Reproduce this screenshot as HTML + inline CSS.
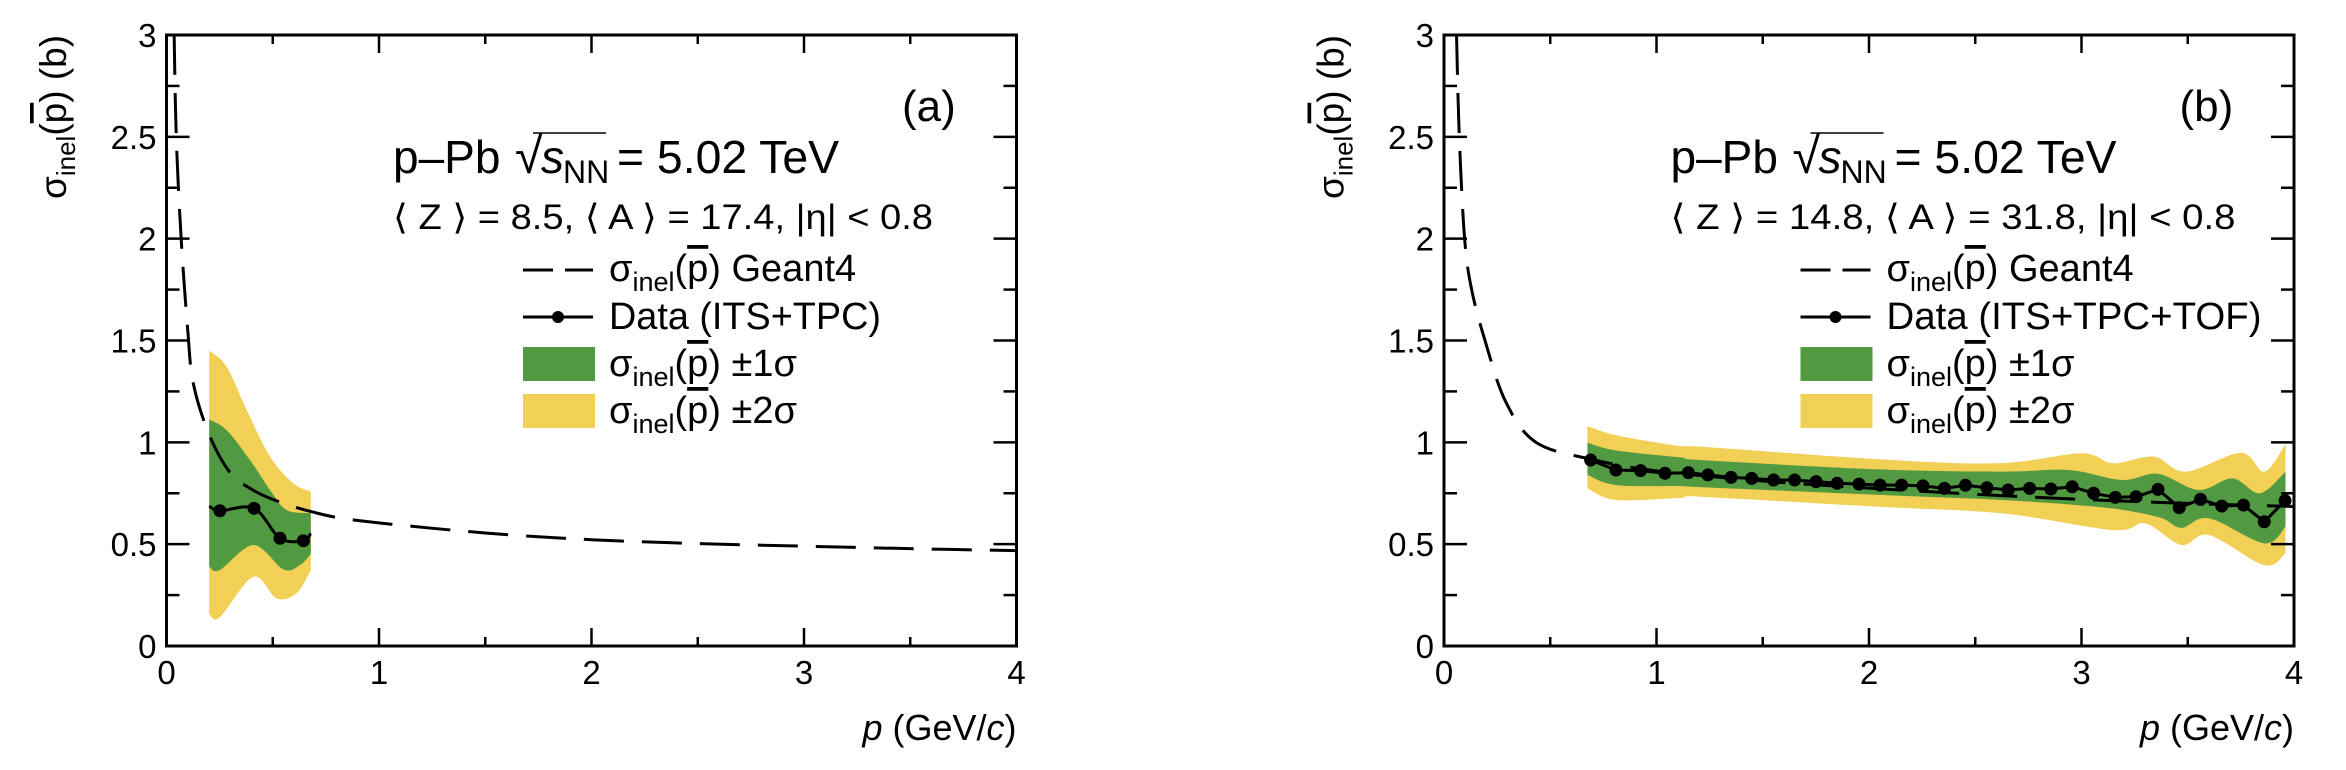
<!DOCTYPE html>
<html><head><meta charset="utf-8"><style>
html,body{margin:0;padding:0;background:#fff}
svg{display:block;font-family:"Liberation Sans",sans-serif}
</style></head><body>
<svg id="c" width="2346" height="770" viewBox="0 0 2346 770" xmlns="http://www.w3.org/2000/svg"></svg>
<script>
// ---------- data: panel (a) ----------
const geantPA = [0.036,0.046,0.069,0.1,0.126,0.2,0.3,0.4,0.5,0.68,0.91,1.5,2,2.5,3,3.5,4];
const geantVA = [3,2.5,2.0,1.55,1.29,1.04,0.85,0.77,0.72,0.66,0.615,0.555,0.522,0.503,0.49,0.478,0.468];
const dataPA = [0.251,0.412,0.534,0.644];
const dataVA = [0.664,0.676,0.529,0.517];
const lineEndsPA = [0.201,0.679];
const lineEndsVA = [0.687,0.553];
const y2UpPA = [0.201,0.283,0.377,0.487,0.597,0.679];
const y2UpVA = [1.45,1.371,1.159,0.93,0.799,0.758];
const y1UpPA = [0.201,0.283,0.393,0.487,0.565,0.679];
const y1UpVA = [1.113,1.06,0.913,0.766,0.668,0.652];
const y1LoPA = [0.201,0.251,0.409,0.55,0.628,0.679];
const y1LoVA = [0.389,0.373,0.496,0.376,0.398,0.452];
const y2LoPA = [0.201,0.251,0.409,0.518,0.612,0.679];
const y2LoVA = [0.157,0.141,0.34,0.234,0.259,0.373];
// ---------- data: panel (b) ----------
const geantPB = [0.059,0.072,0.097,0.13,0.193,0.29,0.433,0.7,1,1.5,2,2.5,3,3.5,4];
const geantVB = [3,2.5,2.0,1.75,1.5,1.2,1.0,0.915,0.86,0.81,0.775,0.745,0.72,0.70,0.685];
const dataPB = [0.69,0.809,0.925,1.04,1.15,1.242,1.351,1.448,1.551,1.65,1.751,1.85,1.953,2.052,2.153,2.254,2.355,2.454,2.555,2.655,2.756,2.856,2.956,3.057,3.159,3.257,3.36,3.46,3.56,3.66,3.762,3.86,3.958];
const dataVB = [0.913,0.864,0.861,0.848,0.851,0.840,0.828,0.823,0.815,0.815,0.807,0.799,0.795,0.79,0.79,0.786,0.774,0.789,0.777,0.766,0.774,0.771,0.782,0.750,0.730,0.733,0.769,0.679,0.72,0.687,0.692,0.610,0.714];
const y2UpPB = [0.675,0.81,1.12,1.205,2.046,2.61,3.0,3.15,3.34,3.49,3.75,3.86,3.96];
const y2UpVB = [1.08,1.035,0.98,0.979,0.917,0.897,0.946,0.897,0.93,0.856,0.949,0.856,0.99];
const y1UpPB = [0.675,0.81,1.12,1.205,2.046,2.63,2.94,3.19,3.36,3.55,3.71,3.84,3.96];
const y1UpVB = [0.998,0.96,0.925,0.913,0.867,0.856,0.864,0.815,0.845,0.766,0.823,0.75,0.856];
const y1LoPB = [0.675,0.81,1.12,1.205,2.046,2.63,3.07,3.24,3.38,3.47,3.6,3.86,3.96];
const y1LoVB = [0.84,0.79,0.785,0.78,0.742,0.717,0.684,0.66,0.627,0.58,0.627,0.504,0.586];
const y2LoPB = [0.675,0.81,1.12,1.205,2.046,2.63,3.15,3.3,3.47,3.6,3.86,3.96];
const y2LoVB = [0.774,0.717,0.728,0.733,0.684,0.651,0.569,0.602,0.496,0.545,0.397,0.455];
// ---------- axes ----------
const xTicks = [0,1,2,3,4];
const yTicks = [0,0.5,1,1.5,2,2.5,3];
const yTickLabels = ["0","0.5","1","1.5","2","2.5","3"];

const NS = "http://www.w3.org/2000/svg";
const svg = document.getElementById('c');
const Y0 = 646, Y1 = 35, W = 850;
function ys(v){ return Y0 - v/3*(Y0-Y1); }
function mk(tag, attrs, parent){ const e=document.createElementNS(NS,tag); for(const k in attrs) e.setAttribute(k,attrs[k]); (parent||svg).appendChild(e); return e; }
function crPath(pts){
  let d = "M"+pts[0][0].toFixed(2)+","+pts[0][1].toFixed(2);
  for(let i=0;i<pts.length-1;i++){
    const p0=pts[Math.max(0,i-1)], p1=pts[i], p2=pts[i+1], p3=pts[Math.min(pts.length-1,i+2)];
    const c1=[p1[0]+(p2[0]-p0[0])/6, p1[1]+(p2[1]-p0[1])/6];
    const c2=[p2[0]-(p3[0]-p1[0])/6, p2[1]-(p3[1]-p1[1])/6];
    d += " C"+c1[0].toFixed(2)+","+c1[1].toFixed(2)+" "+c2[0].toFixed(2)+","+c2[1].toFixed(2)+" "+p2[0].toFixed(2)+","+p2[1].toFixed(2);
  }
  return d;
}
function bandPath(xs, upP, upV, loP, loV){
  const up = upP.map((p,i)=>[xs(p),ys(upV[i])]);
  const lo = loP.map((p,i)=>[xs(p),ys(loV[i])]).reverse();
  let d = crPath(up);
  d += " L" + crPath(lo).slice(1);
  return d + " Z";
}

function panel(X0, id, label, zLine, zLen, dataLabel, dataLen, geP, geV, bands, dP, dV, lineP, lineV){
  const xs = p => X0 + p/4*W;
  const g = mk('g', {});
  
  
  const clip = mk('clipPath', {id:'clip-'+id}, g);
  mk('rect', {x:X0, y:Y1, width:W, height:Y0-Y1}, clip);
  const plot = mk('g', {'clip-path':'url(#clip-'+id+')'}, g);
  const b2 = mk('path', {d: bandPath(xs, bands[0], bands[1], bands[6], bands[7]), fill:'#f2cf55'}, plot);
  
  
  const b1 = mk('path', {d: bandPath(xs, bands[2], bands[3], bands[4], bands[5]), fill:'#529a42'}, plot);
  
  
  const gp = mk('path', {d: crPath(geP.map((p,i)=>[xs(p),ys(geV[i])])), fill:'none', stroke:'#000', 'stroke-width':3, 'stroke-dasharray':'40,18'}, plot);
  
  
  let pts = dP.map((p,i)=>[xs(p),ys(dV[i])]);
  if(lineP){ pts = [[xs(lineP[0]),ys(lineV[0])]].concat(pts).concat([[xs(lineP[1]),ys(lineV[1])]]); }
  const dl = mk('path', {d: lineP ? crPath(pts) : "M"+pts.map(q=>q[0].toFixed(1)+","+q[1].toFixed(1)).join(" L"), fill:'none', stroke:'#000', 'stroke-width':3}, plot);
  
  
  dP.forEach((p,i)=>{
    const c = mk('circle', {cx:xs(p), cy:ys(dV[i]), r:6.5, fill:'#000'}, g);
    
    
  });
  const fr = mk('rect', {x:X0, y:Y1, width:W, height:Y0-Y1, fill:'none', stroke:'#000', 'stroke-width':3}, g);
  
  
  for(let t=0;t<=4.001;t+=0.5){
    const L = (Math.abs(t-Math.round(t))<1e-6)?18:9;
    mk('line', {x1:xs(t), y1:Y0, x2:xs(t), y2:Y0-L, stroke:'#000','stroke-width':2.5}, g);
    mk('line', {x1:xs(t), y1:Y1, x2:xs(t), y2:Y1+L, stroke:'#000','stroke-width':2.5}, g);
  }
  for(let v=0;v<=3.001;v+=0.25){
    const L = (Math.abs(v*2-Math.round(v*2))<1e-6)?23:13;
    mk('line', {x1:X0, y1:ys(v), x2:X0+L, y2:ys(v), stroke:'#000','stroke-width':2.5}, g);
    mk('line', {x1:X0+W, y1:ys(v), x2:X0+W-L, y2:ys(v), stroke:'#000','stroke-width':2.5}, g);
  }
  xTicks.forEach(t=>{
    const tx = mk('text', {x:xs(t), y:684, 'font-size':33, 'text-anchor':'middle'}, g);
    tx.textContent = String(t);
    
    
  });
  yTicks.forEach((v,i)=>{
    const tx = mk('text', {x:X0-10, y:ys(v)+12, 'font-size':33, 'text-anchor':'end'}, g);
    tx.textContent = yTickLabels[i];
    
    
  });
  const dx = X0 - 166.5;
  const lab = mk('text', {x:902+dx, y:121, 'font-size':44}, g);
  lab.textContent = label;
  
  
  const t1 = mk('text', {x:393+dx, y:173, 'font-size':46}, g);
  t1.innerHTML = '<tspan>p–Pb</tspan><tspan x="'+(515+dx)+'" font-size="50">√</tspan><tspan x="'+(541+dx)+'" font-style="italic">s</tspan><tspan x="'+(563+dx)+'" dy="10" font-size="32">NN</tspan><tspan x="'+(617+dx)+'" dy="-10" textLength="222" lengthAdjust="spacingAndGlyphs">= 5.02 TeV</tspan>';
  
  
  mk('line', {x1:533+dx, y1:133, x2:606+dx, y2:133, stroke:'#000','stroke-width':1.5}, g);
  const t2 = mk('text', {x:393+dx, y:229, 'font-size':35, textLength:zLen, lengthAdjust:'spacingAndGlyphs'}, g);
  t2.textContent = zLine;
  
  
  const lx = 523+dx;
  const lg = mk('g', {}, g);
  
  
  mk('line', {x1:lx, y1:270, x2:lx+70, y2:270, stroke:'#000','stroke-width':3,'stroke-dasharray':'30,12'}, lg);
  mk('line', {x1:lx, y1:317, x2:lx+70, y2:317, stroke:'#000','stroke-width':3}, lg);
  mk('circle', {cx:lx+35, cy:317, r:6, fill:'#000'}, lg);
  mk('rect', {x:lx, y:347, width:72, height:34, fill:'#529a42'}, lg);
  mk('rect', {x:lx, y:394, width:72, height:34, fill:'#f2cf55'}, lg);
  const sig = '<tspan>σ</tspan><tspan dy="10" font-size="27">inel</tspan><tspan dy="-10">(</tspan><tspan text-decoration="overline">p</tspan><tspan>)</tspan>';
  const e1 = mk('text', {x:609+dx, y:281, 'font-size':38}, lg); e1.innerHTML = sig+'<tspan> Geant4</tspan>';
  
  
  const e2 = mk('text', {x:609+dx, y:329, 'font-size':38, textLength:dataLen, lengthAdjust:'spacingAndGlyphs'}, lg); e2.textContent = dataLabel;
  
  
  const e3 = mk('text', {x:609+dx, y:376, 'font-size':38}, lg); e3.innerHTML = sig+'<tspan> ±1σ</tspan>';
  
  
  const e4 = mk('text', {x:609+dx, y:423, 'font-size':38}, lg); e4.innerHTML = sig+'<tspan> ±2σ</tspan>';
  
  
  const xt = mk('text', {x:X0+W, y:740, 'font-size':36, 'text-anchor':'end'}, g);
  xt.innerHTML = '<tspan font-style="italic">p</tspan> (GeV/<tspan font-style="italic">c</tspan>)';
  
  
  const yt = mk('text', {x:0, y:0, 'font-size':37, transform:'translate('+(66+dx)+',199) rotate(-90)'}, g);
  yt.innerHTML = '<tspan>σ</tspan><tspan dy="9" font-size="26">inel</tspan><tspan dy="-9">(</tspan><tspan text-decoration="overline">p</tspan><tspan>)  (b)</tspan>';
  
  
}

panel(166.5, 'a', '(a)', '⟨ Z ⟩ = 8.5, ⟨ A ⟩ = 17.4, |η| < 0.8', 540, 'Data (ITS+TPC)', 272,
  geantPA, geantVA, [y2UpPA,y2UpVA,y1UpPA,y1UpVA,y1LoPA,y1LoVA,y2LoPA,y2LoVA], dataPA, dataVA, lineEndsPA, lineEndsVA);
panel(1444, 'b', '(b)', '⟨ Z ⟩ = 14.8, ⟨ A ⟩ = 31.8, |η| < 0.8', 565, 'Data (ITS+TPC+TOF)', 375,
  geantPB, geantVB, [y2UpPB,y2UpVB,y1UpPB,y1UpVB,y1LoPB,y1LoVB,y2LoPB,y2LoVB], dataPB, dataVB, null, null);
</script>
</body></html>
